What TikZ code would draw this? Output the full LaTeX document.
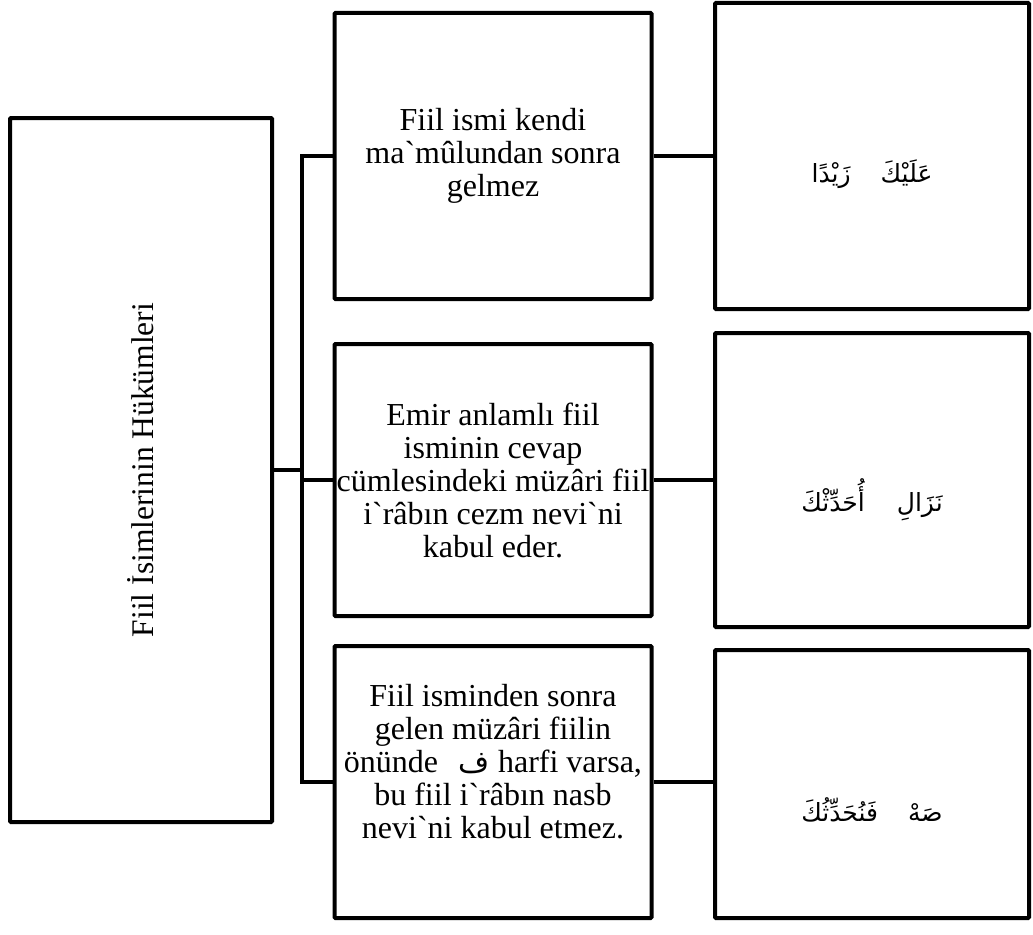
\documentclass[tikz,border=0pt]{standalone}
\usepackage{fontspec}
\setmainfont{Liberation Serif}
\newfontfamily\trfont{Liberation Serif}
\newfontfamily\arabicfont[Script=Arabic]{DejaVu Sans}
\TeXXeTstate=1
\newcommand\gr{\symbol{96}}
\begin{document}
\begin{tikzpicture}[x=1pt,y=-1pt,
  box/.style={draw=black, line width=4pt, rounded corners=1pt, inner sep=0pt},
  trtext/.style={font=\trfont\fontsize{32}{33}\selectfont, align=center, inner sep=0pt},
  sidetext/.style={font=\trfont\fontsize{31.5}{33}\selectfont, inner sep=0pt},
  artext/.style={font=\arabicfont\fontsize{25}{28}\selectfont, inner sep=0pt},
  conn/.style={line width=4pt}]
\useasboundingbox (0,0) rectangle (1033,934);
% left box
\node[box, minimum width=262pt, minimum height=704pt] (L) at (141,470) {};
\node[sidetext, rotate=90] (Lt) at (L.center) {Fiil İsimlerinin Hükümleri};
% middle boxes
\node[box, minimum width=317pt, minimum height=286pt] (M1) at (493,156) {};
\node[box, minimum width=317pt, minimum height=272pt] (M2) at (493,480) {};
\node[box, minimum width=317pt, minimum height=272pt] (M3) at (493,782) {};
\node[trtext] (M1t) at (M1.center) {Fiil ismi kendi\\ ma\gr mûlundan sonra\\ gelmez};
\node[trtext] (M2t) at (M2.center) {Emir anlamlı fiil\\ isminin cevap\\ cümlesindeki müzâri fiil\\ i\gr râbın cezm nevi\gr ni\\ kabul eder.};
\node[trtext] (M3t) at ([yshift=20pt]M3.center) {Fiil isminden sonra\\ gelen müzâri fiilin\\ önünde\hspace{0.4em} {\arabicfont\fontsize{30}{33}\selectfont\beginR ف\endR} harfi varsa,\\ bu fiil i\gr râbın nasb\\ nevi\gr ni kabul etmez.};
% right boxes
\node[box, minimum width=314pt, minimum height=306pt] (R1) at (872,156) {};
\node[box, minimum width=314pt, minimum height=294pt] (R2) at (872,480) {};
\node[box, minimum width=314pt, minimum height=268pt] (R3) at (872,784) {};
\node[artext] (R1t) at ([yshift=-18pt]R1.center) {\beginR عَلَيْكَ\hspace{30pt}زَيْدًا\endR};
\node[artext] (R2t) at ([yshift=-20pt]R2.center) {\beginR نَزَالِ\hspace{32pt}أُحَدِّثْكَ\endR};
\node[artext] (R3t) at ([yshift=-26pt]R3.center) {\beginR صَهْ\hspace{30pt}فَنُحَدِّثُكَ\endR};
% connectors
\coordinate (t) at (302,470);
\draw[conn] (L.east) -- (L.east -| t);
\draw[conn] (M1.west) -- (M1.west -| t) -- (M3.west -| t) -- (M3.west);
\draw[conn] (M2.west) -- (M2.west -| t);
\draw[conn] (M1.east) -- (R1.west);
\draw[conn] (M2.east) -- (R2.west);
\draw[conn] (M3.east) -- (M3.east -| R3.west);
\end{tikzpicture}
\end{document}
